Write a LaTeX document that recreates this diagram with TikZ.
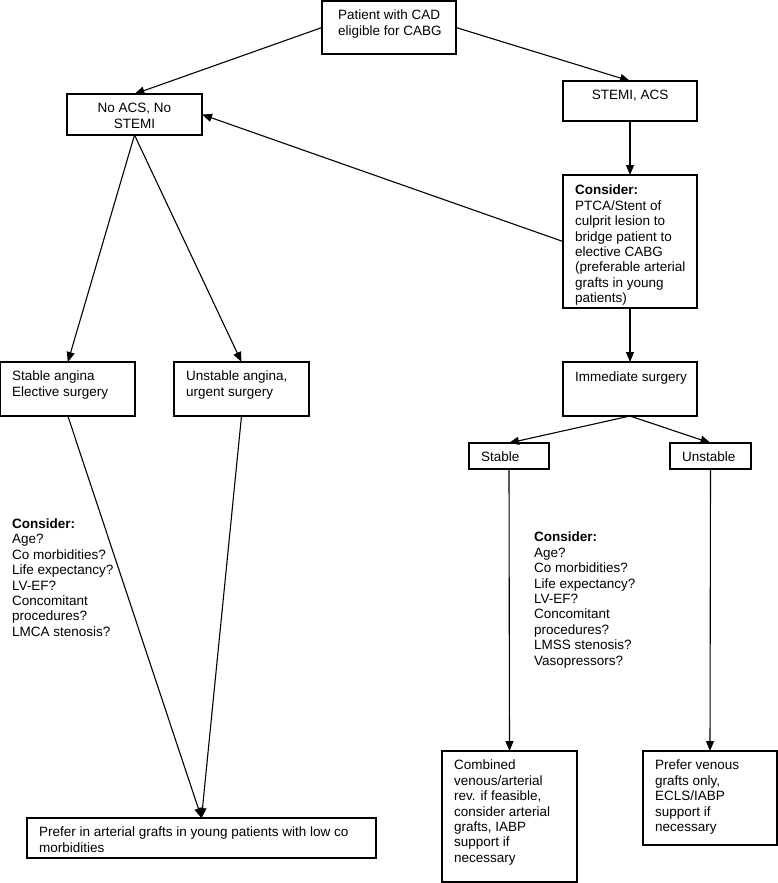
\documentclass[tikz,border=0pt]{standalone}
\usepackage{fontspec}
\setmainfont{Liberation Sans}
\usetikzlibrary{arrows.meta}
\begin{document}
\begin{tikzpicture}[x=1pt,y=-1pt,
  box/.style={draw, line width=1.2pt, inner sep=0pt, outer sep=0pt, anchor=north west},
  lab/.style={inner sep=0pt, align=left, font=\fontsize{13.5}{15.4}\selectfont},
  arr/.style={-{Triangle[length=10pt,width=8pt]}, line width=1.1pt}]
\useasboundingbox (0,0) rectangle (778,883);

\node[box, minimum width=134, minimum height=53,
  label={[lab, anchor=north west, xshift=16, yshift=-9]north west:{Patient with CAD\\eligible for CABG}}] (top) at (322,1) {};
\node[box, minimum width=135, minimum height=41,
  label={[lab, align=center, anchor=north, yshift=-9]north:{No ACS, No\\STEMI}}] (noacs) at (67,94) {};
\node[box, minimum width=134, minimum height=40,
  label={[lab, align=center, anchor=north, yshift=-9]north:{STEMI, ACS}}] (stemi) at (563,81) {};
\node[box, minimum width=134, minimum height=133,
  label={[lab, anchor=north west, xshift=12, yshift=-10]north west:{\textbf{Consider:}\\PTCA/Stent of\\culprit lesion to\\bridge patient to\\elective CABG\\(preferable arterial\\grafts in young\\patients)}}] (cons) at (563,175) {};
\node[box, minimum width=134, minimum height=54,
  label={[lab, anchor=north west, xshift=12, yshift=-10]north west:{Immediate surgery}}] (imm) at (563,362) {};
\node[box, minimum width=80, minimum height=26,
  label={[lab, anchor=north west, xshift=12, yshift=-8.5]north west:{Stable}}] (stable) at (469,443) {};
\node[box, minimum width=81, minimum height=26,
  label={[lab, anchor=north west, xshift=12, yshift=-8.5]north west:{Unstable}}] (unstable) at (670,443) {};
\node[box, minimum width=134.3, minimum height=54,
  label={[lab, anchor=north west, xshift=11.3, yshift=-9]north west:{Stable angina\\Elective surgery}}] (sa) at (0.7,362) {};
\node[box, minimum width=135, minimum height=54,
  label={[lab, anchor=north west, xshift=12, yshift=-9]north west:{Unstable angina,\\urgent surgery}}] (ua) at (174,362) {};
\node[box, minimum width=349, minimum height=40,
  label={[lab, anchor=north west, xshift=12, yshift=-9]north west:{Prefer in arterial grafts in young patients with low co\\morbidities}}] (pa) at (27,818) {};
\node[box, minimum width=135, minimum height=131,
  label={[lab, anchor=north west, xshift=12, yshift=-9]north west:{Combined\\venous/arterial\\rev. if feasible,\\consider arterial\\grafts, IABP\\support if\\necessary}}] (comb) at (442,751) {};
\node[box, minimum width=134, minimum height=94,
  label={[lab, anchor=north west, xshift=12, yshift=-9]north west:{Prefer venous\\grafts only,\\ECLS/IABP\\support if\\necessary}}] (pv) at (643,751) {};

\node[lab, anchor=north west] (lc) at (12,518.5) {\textbf{Consider:}\\Age?\\Co morbidities?\\Life expectancy?\\LV-EF?\\Concomitant\\procedures?\\LMCA stenosis?};
\node[lab, anchor=north west] (rc) at (534,532) {\textbf{Consider:}\\Age?\\Co morbidities?\\Life expectancy?\\LV-EF?\\Concomitant\\procedures?\\LMSS stenosis?\\Vasopressors?};

\draw[arr] (top.west) -- (noacs.north);
\draw[arr] (top.east) -- (stemi.north);
\draw[arr] (stemi.south) -- (cons.north);
\draw[arr] (cons.west) -- (noacs.east);
\draw[arr] (noacs.south) -- (sa.north);
\draw[arr] (noacs.south) -- (ua.north);
\draw[arr] (cons.south) -- (imm.north);
\draw[arr] (imm.south) -- (stable.north);
\draw[arr] (imm.south) -- (unstable.north);
\draw[arr] (stable.south) -- (comb.north);
\draw[arr] (unstable.south) -- (pv.north);
\draw[arr] (sa.south) -- (pa.north);
\draw[arr] (ua.south) -- (pa.north);
\end{tikzpicture}
\end{document}
